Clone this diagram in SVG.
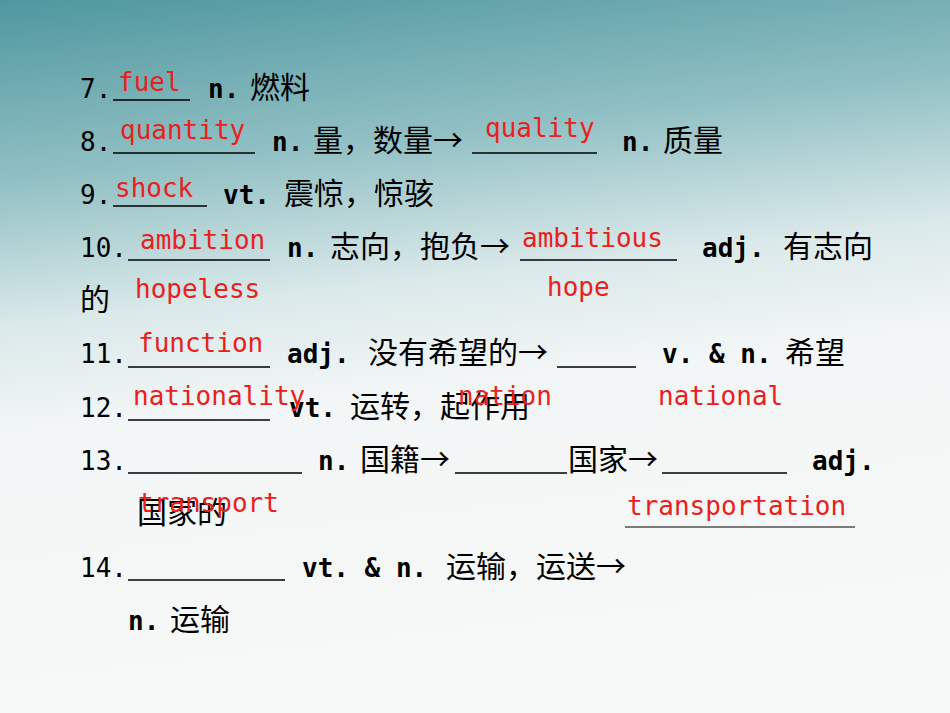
<svg xmlns="http://www.w3.org/2000/svg" width="950" height="713" viewBox="0 0 950 713">
<defs>
<linearGradient id="bg" x1="0" y1="0" x2="0.15" y2="1">
<stop offset="0" stop-color="#4f979f"/>
<stop offset="0.25" stop-color="#91c0c4"/>
<stop offset="0.45" stop-color="#dbe9ea"/>
<stop offset="0.6" stop-color="#f3f6f6"/>
<stop offset="1" stop-color="#f7f8f8"/>
</linearGradient>
</defs>
<style>
.k{font-family:"DejaVu Sans Mono","Noto Sans CJK SC",monospace;font-size:26px;fill:#000}
.c{font-family:"Noto Sans CJK SC",sans-serif;font-size:30px;fill:#000}
.b{font-weight:bold}
.r{font-family:"DejaVu Sans Mono",monospace;font-size:26px;fill:#e8211c}
.u{stroke:#000;stroke-width:1.5}
</style>
<rect width="950" height="713" fill="url(#bg)"/>
<g id="lines" class="u">
<line x1="113" y1="100" x2="190" y2="100"/>
<line x1="113" y1="153" x2="255" y2="153"/>
<line x1="472" y1="153" x2="597" y2="153"/>
<line x1="113" y1="206" x2="207" y2="206"/>
<line x1="128" y1="260" x2="270" y2="260"/>
<line x1="520" y1="260" x2="677" y2="260"/>
<line x1="128" y1="367" x2="270" y2="367"/>
<line x1="557" y1="367" x2="636" y2="367"/>
<line x1="128" y1="420" x2="270" y2="420"/>
<line x1="128" y1="473" x2="302" y2="473"/>
<line x1="455" y1="473" x2="567" y2="473"/>
<line x1="662" y1="473" x2="787" y2="473"/>
<line x1="625" y1="527" x2="855" y2="527" stroke-width="1"/>
<line x1="128" y1="580" x2="285" y2="580"/>
</g>
<g id="black">
<text class="k" x="80" y="98">7.</text><text class="k b" x="208" y="98">n.</text><text class="c" x="250" y="98">燃料</text>
<text class="k" x="80" y="151">8.</text><text class="k b" x="272" y="151">n.</text><text class="c" x="313" y="151">量，数量→</text><text class="k b" x="622" y="151">n.</text><text class="c" x="663" y="151">质量</text>
<text class="k" x="80" y="204">9.</text><text class="k b" x="223" y="204">vt.</text><text class="c" x="284" y="204">震惊，惊骇</text>
<text class="k" x="80" y="257">10.</text><text class="k b" x="287" y="257">n.</text><text class="c" x="330" y="257">志向，抱负→</text><text class="k b" x="702" y="257">adj.</text><text class="c" x="783" y="257">有志向</text>
<text class="c" x="80" y="310">的</text>
<text class="k" x="80" y="363">11.</text><text class="k b" x="287" y="363">adj.</text><text class="c" x="368" y="363">没有希望的→</text><text class="k b" x="662" y="363">v. &amp; n.</text><text class="c" x="785" y="363">希望</text>
<text class="k" x="80" y="417">12.</text><text class="k b" x="289" y="417">vt.</text><text class="c" x="350" y="417">运转，起作用</text>
<text class="k" x="80" y="470">13.</text><text class="k b" x="318" y="470">n.</text><text class="c" x="360" y="470">国籍→</text><text class="c" x="568" y="470">国家→</text><text class="k b" x="812" y="470">adj.</text>
<text class="c" x="137" y="523">国家的</text>
<text class="k" x="80" y="577">14.</text><text class="k b" x="302" y="577">vt. &amp; n.</text><text class="c" x="446" y="577">运输，运送→</text>
<text class="k b" x="128" y="630">n.</text><text class="c" x="170" y="630">运输</text>
</g>
<g id="answers">
<text class="r" x="118" y="91">fuel</text>
<text class="r" x="120" y="139">quantity</text>
<text class="r" x="485" y="137">quality</text>
<text class="r" x="115" y="197">shock</text>
<text class="r" x="140" y="249">ambition</text>
<text class="r" x="522" y="247">ambitious</text>
<text class="r" x="135" y="298">hopeless</text>
<text class="r" x="547" y="296">hope</text>
<text class="r" x="138" y="352">function</text>
<text class="r" x="133" y="405">nationality</text>
<text class="r" x="458" y="405">nation</text>
<text class="r" x="658" y="405">national</text>
<text class="r" x="138" y="512">transport</text>
<text class="r" x="627" y="515">transportation</text>
</g>
</svg>
